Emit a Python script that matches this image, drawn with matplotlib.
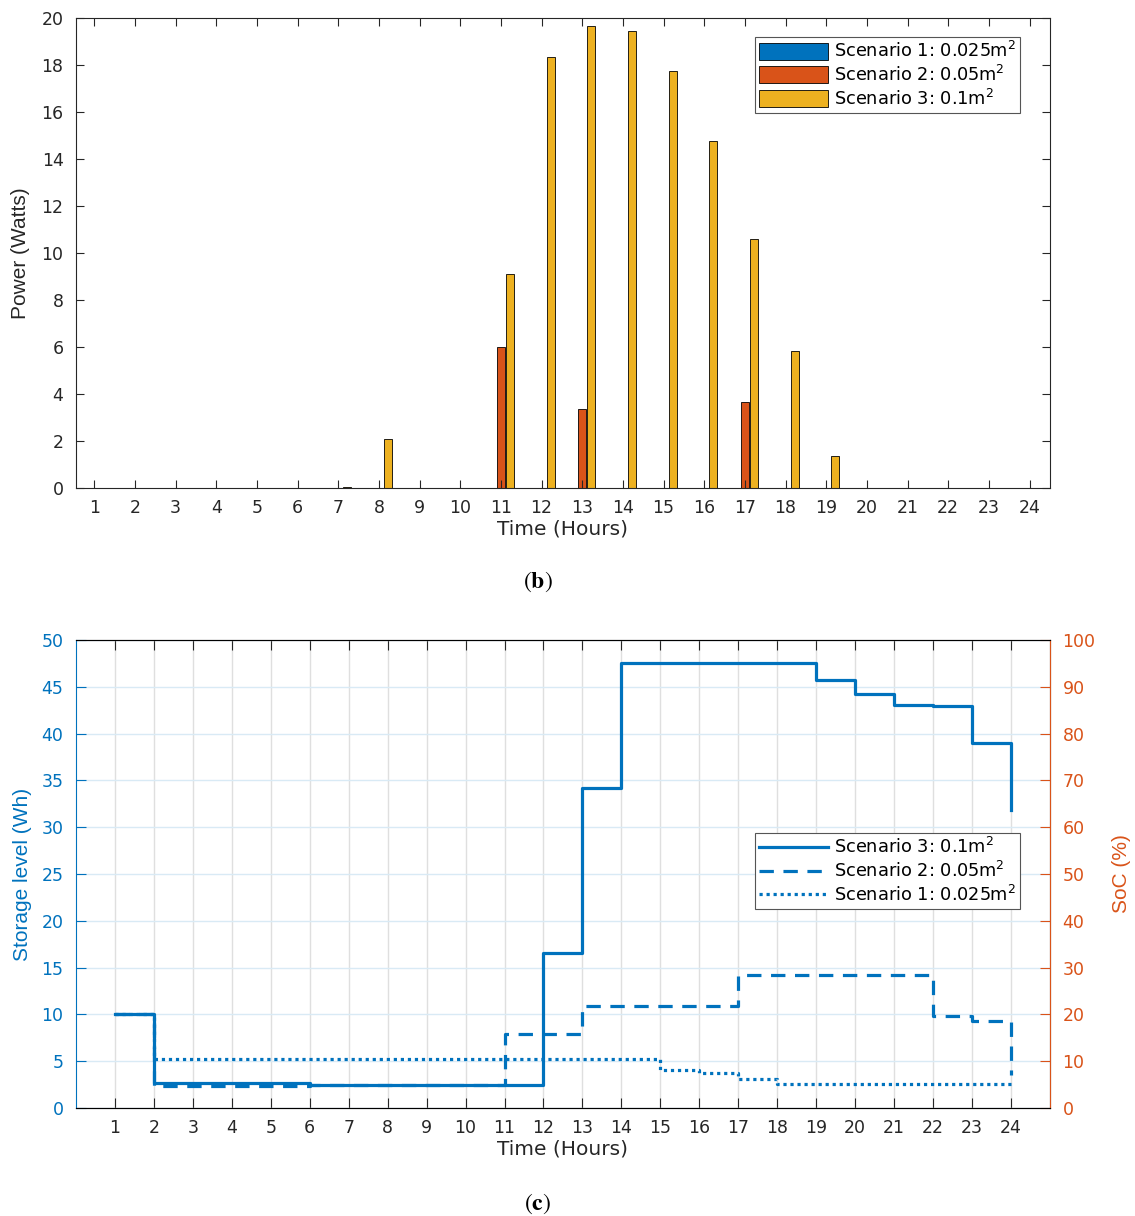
import numpy as np
import matplotlib
matplotlib.use("Agg")
import matplotlib.pyplot as plt
from matplotlib import font_manager

# fonts
plt.rcParams['font.family'] = ['DejaVu Sans']
plt.rcParams['mathtext.fontset'] = 'dejavusans'
names = set(f.name for f in font_manager.fontManager.ttflist)
narrow = 'Liberation Sans Narrow' if 'Liberation Sans Narrow' in names else 'Liberation Sans'

# ---- data (b): power per hour ----
hours = np.arange(1, 25)
power_s1 = [0] * 24
power_s2 = [0, 0, 0, 0, 0, 0, 0, 0, 0, 0, 6.0, 0, 3.35, 0, 0, 0, 3.65, 0, 0, 0, 0, 0, 0, 0]
power_s3 = [0, 0, 0, 0, 0, 0, 0.03, 2.1, 0, 0, 9.1, 18.35, 19.65, 19.45, 17.75, 14.75,
            10.6, 5.85, 1.35, 0, 0, 0, 0, 0]

# ---- data (c): storage level per hour ----
store_s3 = [10, 2.65, 2.65, 2.65, 2.65, 2.45, 2.45, 2.45, 2.45, 2.45, 2.45, 16.6,
            34.2, 47.5, 47.5, 47.5, 47.5, 47.5, 45.7, 44.2, 43.1, 42.9, 39.0, 31.8]
store_s2 = [10, 2.4, 2.4, 2.4, 2.4, 2.45, 2.45, 2.45, 2.45, 2.45, 7.9, 7.9,
            10.9, 10.9, 10.9, 10.9, 14.2, 14.2, 14.2, 14.2, 14.2, 9.8, 9.3, 3.5]
store_s1 = [10, 5.25, 5.25, 5.25, 5.25, 5.25, 5.25, 5.25, 5.25, 5.25, 5.25, 5.25,
            5.25, 5.25, 4.05, 3.77, 3.06, 2.52, 2.52, 2.52, 2.52, 2.52, 2.52, 2.52]

labels = ['Scenario 1: 0.025m$^2$', 'Scenario 2: 0.05m$^2$', 'Scenario 3: 0.1m$^2$']
blue, orange, yellow = '#0072BD', '#D95319', '#EDB120'
dark = '#262626'

fig = plt.figure(figsize=(11.35, 12.16), dpi=100)

# ---------- top chart ----------
ax = fig.add_axes([0.067, 0.5987, 0.858, 0.3865])
w = 0.2
ax.bar(hours - 0.222, power_s1, w, color=blue, edgecolor='black', linewidth=0.6, label=labels[0])
ax.bar(hours, power_s2, w, color=orange, edgecolor='black', linewidth=0.6, label=labels[1])
ax.bar(hours + 0.222, power_s3, w, color=yellow, edgecolor='black', linewidth=0.6, label=labels[2])
ax.set_xlim(0.55, 24.5)
ax.set_ylim(0, 20)
ax.set_xticks(hours)
ax.set_yticks(np.arange(0, 21, 2))
ax.tick_params(direction='in', top=True, right=True, length=6, labelsize=12.5, colors=dark)
ax.tick_params(axis='x', pad=8)
ax.tick_params(axis='y', pad=9)
for s in ax.spines.values():
    s.set_color(dark)
ax.set_xlabel('Time (Hours)', fontsize=14.5, color=dark, labelpad=2)
ax.set_ylabel('Power (Watts)', fontsize=15, color=dark, family=narrow, labelpad=8)
leg = ax.legend(loc='upper right', bbox_to_anchor=(0.969, 0.96), fontsize=12.8,
                handlelength=3.9, handleheight=1.1, fancybox=False, edgecolor='#555555',
                framealpha=1, borderpad=0.25, labelspacing=0.2, handletextpad=0.3,
                borderaxespad=0)
leg.get_frame().set_linewidth(0.8)

fig.text(0.474, 0.5214, r'$(\mathbf{b})$', ha='center', va='center', fontsize=17,
         math_fontfamily='stix')

# ---------- bottom chart ----------
ax2 = fig.add_axes([0.067, 0.0888, 0.858, 0.3849])
ax2.step(hours, store_s3, where='post', color=blue, lw=2.3, label=labels[2])
ax2.step(hours, store_s2, where='post', color=blue, lw=2.3, ls=(0, (4.5, 3)), label=labels[1])
ax2.step(hours, store_s1, where='post', color=blue, lw=2.3, ls=(0, (1, 1.2)), label=labels[0])
ax2.set_xlim(0, 25)
ax2.set_ylim(0, 50)
ax2.set_xticks(hours)
ax2.set_yticks(np.arange(0, 51, 5))
ax2.grid(axis='x', color='#dfdfdf', lw=1)
ax2.grid(axis='y', color='#d9eaf5', lw=1)
ax2.set_axisbelow(True)
ax2.tick_params(axis='x', direction='in', top=True, length=7, labelsize=12.5, colors=dark, pad=8)
ax2.tick_params(axis='y', direction='in', length=7, labelsize=12.5, colors=blue, pad=9)
ax2.spines['left'].set_color(blue)
ax2.spines['top'].set_color(dark)
ax2.spines['bottom'].set_color(dark)
ax2.set_xlabel('Time (Hours)', fontsize=14.5, color=dark, labelpad=2)
ax2.set_ylabel('Storage level (Wh)', fontsize=15, color=blue, family=narrow, labelpad=7)

ax3 = ax2.twinx()
ax3.set_ylim(0, 100)
ax3.set_yticks(np.arange(0, 101, 10))
ax3.tick_params(axis='y', direction='in', length=7, labelsize=12.5, colors=orange, pad=9)
ax3.spines['right'].set_color(orange)
ax3.spines['left'].set_visible(False)
ax3.set_ylabel('SoC (%)', fontsize=15, color=orange, family=narrow, labelpad=12)

leg2 = ax2.legend(loc='upper right', bbox_to_anchor=(0.969, 0.588), fontsize=12.8,
                  handlelength=3.9, fancybox=False, edgecolor='#555555', framealpha=1,
                  borderpad=0.25, labelspacing=0.2, handletextpad=0.3, borderaxespad=0)
leg2.get_frame().set_linewidth(0.8)

fig.text(0.474, 0.0099, r'$(\mathbf{c})$', ha='center', va='center', fontsize=17,
         math_fontfamily='stix')

fig.savefig('out.png', dpi=100)
